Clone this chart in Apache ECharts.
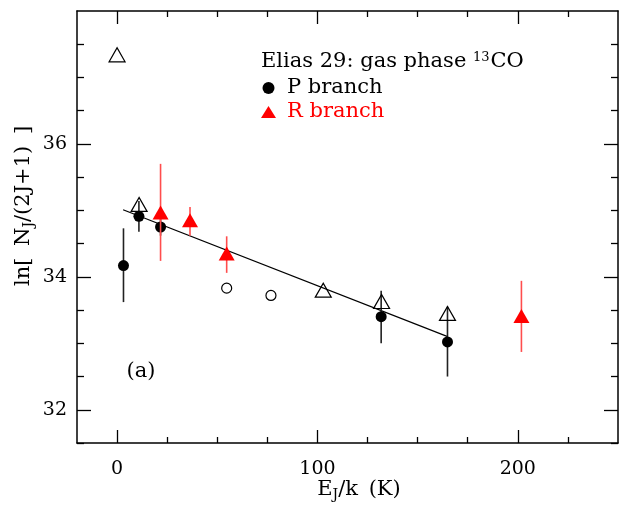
<!DOCTYPE html>
<html><head><meta charset="utf-8">
<script src="https://cdn.jsdelivr.net/npm/echarts@6/dist/echarts.min.js"></script>
<style>html,body{margin:0;padding:0;background:#fff}#c{width:619px;height:506px}</style>
</head><body><div id="c"></div>
<script>
// Axis ticks
const xMajor = [0, 100, 200];
const xMinor = [25, 50, 75, 125, 150, 175, 225];
const yMajor = [32, 34, 36];
const yMinor = [31.5, 32.5, 33, 33.5, 34.5, 35, 35.5, 36.5, 37, 37.5];

// P branch (filled circles): [E_J/k, ln value]
const pBranch = [[3.2, 34.17], [10.9, 34.91], [21.7, 34.75], [131.8, 33.40], [164.9, 33.02]];
// P branch error bars: [x, low, high]
const pErr = [[3.2, 33.62, 34.73], [10.9, 34.68, 35.14], [21.7, 34.62, 34.88], [131.8, 33.00, 33.79], [164.9, 32.50, 33.55]];
// R branch (filled red triangles)
const rBranch = [[21.7, 34.97], [36.4, 34.85], [54.7, 34.35], [201.8, 33.41]];
const rErr = [[21.7, 34.24, 35.70], [36.4, 34.62, 35.05], [54.7, 34.06, 34.61], [201.8, 32.87, 33.94]];
// open triangles
const openTri = [[0, 37.34], [11, 35.09], [102.9, 33.80], [132, 33.63], [164.9, 33.45]];
// open circles
const openCirc = [[54.7, 33.83], [76.8, 33.72]];
// fit line
const fitLine = [[3, 35.01], [165, 33.10]];

const FONT = 'DejaVu Serif';
const chart = echarts.init(document.getElementById('c'), null, {renderer: 'canvas'});

function errRender(color, w) {
  return function (params, api) {
    const x = api.value(0), lo = api.value(1), hi = api.value(2);
    const p1 = api.coord([x, lo]), p2 = api.coord([x, hi]);
    return {type: 'line', shape: {x1: p1[0], y1: p1[1], x2: p2[0], y2: p2[1]},
      style: {stroke: color, lineWidth: w}};
  };
}

const axLine = {show: true, onZero: false, lineStyle: {color: '#000', width: 1.5}};
function xAx(pos, vals, len, labels, line) {
  return {type: 'value', position: pos, min: -20, max: 250, gridIndex: 0,
    axisLine: line ? axLine : {show: false, onZero: false},
    axisTick: {show: true, inside: true, length: len, customValues: vals, lineStyle: {color: '#000', width: 1.3}},
    axisLabel: labels ? {show: true, customValues: vals, fontFamily: FONT, fontSize: 19, color: '#000', margin: 17} : {show: false},
    splitLine: {show: false}};
}
function yAx(pos, vals, len, labels, line) {
  return {type: 'value', position: pos, min: 31.5, max: 38, gridIndex: 0,
    axisLine: line ? axLine : {show: false, onZero: false},
    axisTick: {show: true, inside: true, length: len, customValues: vals, lineStyle: {color: '#000', width: 1.3}},
    axisLabel: labels ? {show: true, customValues: vals, fontFamily: FONT, fontSize: 19, color: '#000', margin: 10} : {show: false},
    splitLine: {show: false}};
}

const option = {
  animation: false,
  backgroundColor: '#fff',
  grid: {left: 77, right: 1, top: 11, bottom: 63, containLabel: false},
  xAxis: [xAx('bottom', xMajor, 13, true, true), xAx('bottom', xMinor, 6, false, false),
          xAx('top', xMajor, 13, false, true), xAx('top', xMinor, 6, false, false)],
  yAxis: [yAx('left', yMajor, 14, true, true), yAx('left', yMinor, 7, false, false),
          yAx('right', yMajor, 14, false, true), yAx('right', yMinor, 7, false, false)],
  legend: {
    data: [{name: 'P branch', textStyle: {color: '#000'}}, {name: 'R branch', textStyle: {color: '#ff0000'}}],
    orient: 'vertical', left: 256, top: 71, itemWidth: 15, itemHeight: 12, itemGap: 0,
    textStyle: {fontFamily: FONT, fontSize: 21, lineHeight: 24, padding: [0, 0, 0, 6]},
    selectedMode: false
  },
  graphic: [
    {type: 'text', x: 261, y: 62, style: {
      text: '{a|Elias 29: gas phase }{s|13}{a|CO}', verticalAlign: 'middle',
      rich: {a: {fontFamily: FONT, fontSize: 21, fill: '#000', lineHeight: 24},
             s: {fontFamily: FONT, fontSize: 13, fill: '#000', lineHeight: 24, padding: [0, 1, 9, 0]}}}},
    {type: 'text', x: 141, y: 372, style: {text: '(a)', fontFamily: FONT, fontSize: 21, fill: '#000',
      align: 'center', verticalAlign: 'middle'}},
    {type: 'text', x: 359, y: 490, style: {
      text: '{a|E}{s|J}{a|/k}{sp| }{a|(K)}', align: 'center', verticalAlign: 'middle',
      rich: {a: {fontFamily: FONT, fontSize: 21, fill: '#000', lineHeight: 24},
             sp: {fontFamily: FONT, fontSize: 21, fill: '#000', lineHeight: 24, padding: [0, 4, 0, 0]},
             s: {fontFamily: FONT, fontSize: 14, fill: '#000', lineHeight: 24, padding: [11, 0, 0, 0]}}}},
    {type: 'text', x: 24, y: 206, rotation: Math.PI / 2, style: {
      text: '{a|ln[}{sp| }{a|N}{s|J}{a|/(2J+1)}{sp| }{a|]}', align: 'center', verticalAlign: 'middle',
      rich: {a: {fontFamily: FONT, fontSize: 21, fill: '#000', lineHeight: 24},
             sp: {fontFamily: FONT, fontSize: 21, fill: '#000', lineHeight: 24, padding: [0, 5, 0, 0]},
             s: {fontFamily: FONT, fontSize: 14, fill: '#000', lineHeight: 24, padding: [11, 0, 0, 0]}}}}
  ],
  series: [
    {type: 'line', data: fitLine, symbol: 'none', lineStyle: {color: '#000', width: 1.2}, z: 2, silent: true},
    {type: 'custom', name: 'perr', data: pErr, renderItem: errRender('#222', 1.6), encode: {x: 0, y: [1, 2]}, z: 3},
    {type: 'scatter', name: 'open triangles', data: openTri, symbol: 'triangle', symbolSize: [16, 14],
      itemStyle: {color: 'rgba(0,0,0,0)', borderColor: '#000', borderWidth: 1.2, opacity: 1}, z: 4},
    {type: 'scatter', name: 'open circles', data: openCirc, symbol: 'circle', symbolSize: 10,
      itemStyle: {color: 'rgba(0,0,0,0)', borderColor: '#000', borderWidth: 1.2, opacity: 1}, z: 4},
    {type: 'scatter', name: 'P branch', data: pBranch, symbol: 'circle', symbolSize: 11,
      itemStyle: {color: '#000', opacity: 1}, z: 5},
    {type: 'custom', name: 'rerr', data: rErr, renderItem: errRender('#ff4d4d', 1.6), encode: {x: 0, y: [1, 2]}, z: 6},
    {type: 'scatter', name: 'R branch', data: rBranch, symbol: 'triangle', symbolSize: [16, 14],
      itemStyle: {color: '#ff0000', opacity: 1}, z: 7}
  ]
};
chart.setOption(option);
</script>
</body></html>
